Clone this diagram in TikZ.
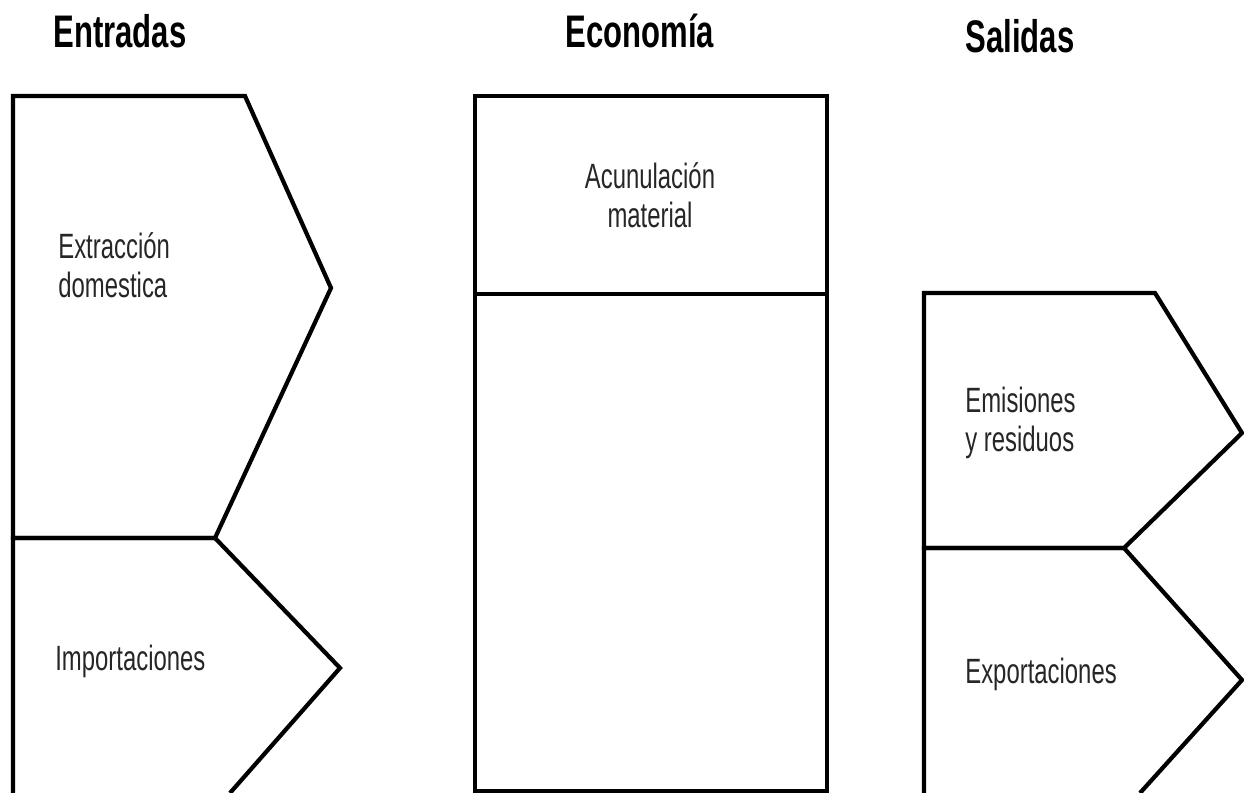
\documentclass[tikz,border=0pt]{standalone}
\usepackage{fontspec}
\setmainfont{Liberation Sans}[FakeStretch=0.68]
\usetikzlibrary{calc}
\tikzstyle{contorno} = [draw, line width=2.4pt, line join=miter]
\tikzstyle{titulo} = [font=\fontsize{26}{30}\selectfont\bfseries, inner sep=0pt, anchor=base]
\tikzstyle{etiqueta} = [font=\fontsize{20}{22.7}\selectfont, text=black!85, inner sep=0pt, anchor=base west, align=left]

\begin{document}
\begin{tikzpicture}[x=0.02cm, y=-0.02cm]

    \useasboundingbox (0,0) rectangle (1244,793);

    % titulos de las columnas
    \foreach \pos/ \name/ \texto in {{(120,48)/entradas/Entradas}, {(640,48)/economia/Economía}, {(1020,53)/salidas/Salidas}}
        \node[titulo] (\name) at \pos {\texto};

    % entradas
    \draw[contorno] (13,538) -- (13,96) -- (245,96) -- (331,288) -- (215,538) -- cycle;
    \draw[contorno] (13,793) -- (13,538) -- (215,538) -- (340,668) -- (230,793);

    % economia
    \draw[contorno] (475,96) rectangle (827,791);
    \draw[contorno] (475,294) -- (827,294);

    % salidas
    \draw[contorno] (924,548) -- (924,293) -- (1155,293) -- (1242,433) -- (1124,548) -- cycle;
    \draw[contorno] (924,793) -- (924,548) -- (1124,548) -- (1242,680) -- (1140,793);

    % textos (la base es la de la ultima linea)
    \node[etiqueta] (extraccion) at (58,298) {Extracción\\domestica};
    \node[etiqueta] (importaciones) at (55,670) {Importaciones};
    \node[etiqueta, anchor=base, align=center] (acumulacion) at (650,228) {Acunulación\\material};
    \node[etiqueta] (emisiones) at (965,452) {Emisiones\\y residuos};
    \node[etiqueta] (exportaciones) at (965,683) {Exportaciones};

\end{tikzpicture}
\end{document}
